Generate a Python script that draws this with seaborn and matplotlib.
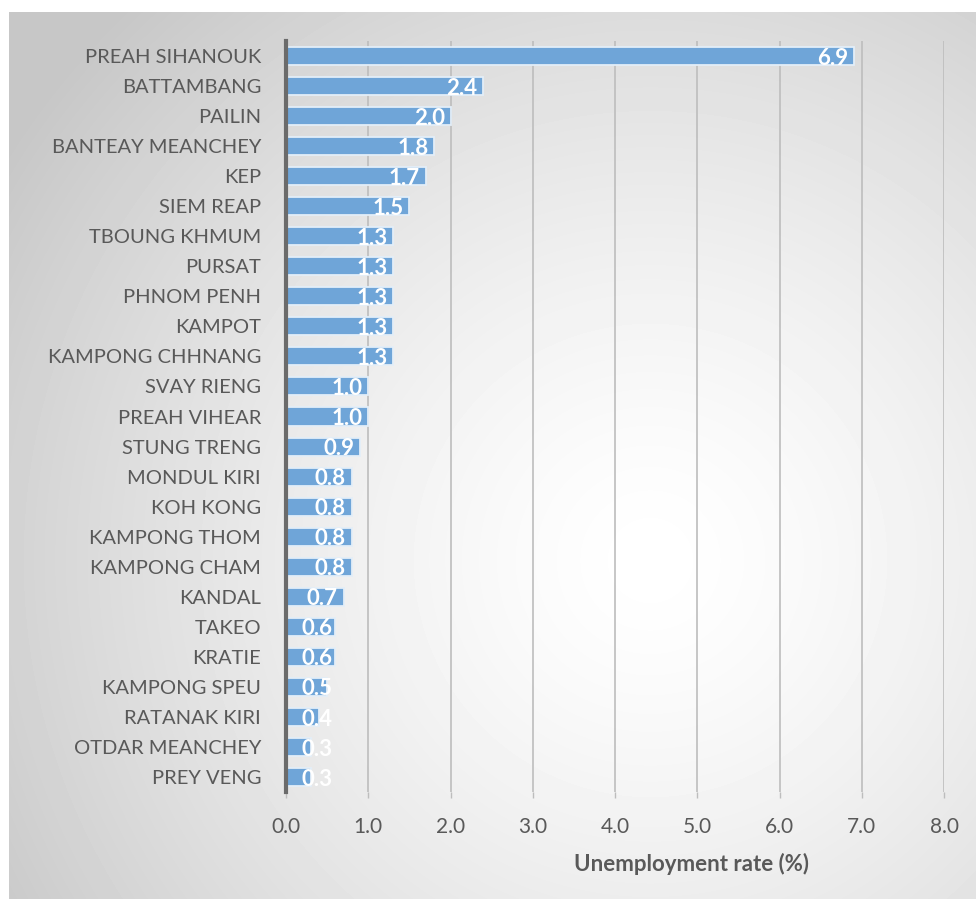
import numpy as np
import pandas as pd
import matplotlib
matplotlib.use("Agg")
import matplotlib.pyplot as plt
import seaborn as sns

provinces = [
    "PREAH SIHANOUK", "BATTAMBANG", "PAILIN", "BANTEAY MEANCHEY", "KEP",
    "SIEM REAP", "TBOUNG KHMUM", "PURSAT", "PHNOM PENH", "KAMPOT",
    "KAMPONG CHHNANG", "SVAY RIENG", "PREAH VIHEAR", "STUNG TRENG",
    "MONDUL KIRI", "KOH KONG", "KAMPONG THOM", "KAMPONG CHAM", "KANDAL",
    "TAKEO", "KRATIE", "KAMPONG SPEU", "RATANAK KIRI", "OTDAR MEANCHEY",
    "PREY VENG",
]
rates = [6.9, 2.4, 2.0, 1.8, 1.7, 1.5, 1.3, 1.3, 1.3, 1.3, 1.3, 1.0, 1.0,
         0.9, 0.8, 0.8, 0.8, 0.8, 0.7, 0.6, 0.6, 0.5, 0.4, 0.3, 0.3]
x_ticks = [0, 1, 2, 3, 4, 5, 6, 7, 8]

df = pd.DataFrame({"province": provinces, "rate": rates})

sns.set_theme(style="white")
plt.rcParams["font.family"] = ["Lato", "DejaVu Sans"]

W, H = 976, 899
fig = plt.figure(figsize=(W / 100, H / 100), dpi=100)
fig.patch.set_facecolor("white")

# Radial gradient panel behind the chart
bg = fig.add_axes([9 / W, 0, 1 - 9 / W, 1 - 12 / H], zorder=-10)
bw, bh = W - 9, H - 12
yy, xx = np.mgrid[0:bh, 0:bw]
cx, cy = 650 - 9, 560 - 12
r = np.sqrt((xx - cx) ** 2 + (yy - cy) ** 2) / 760.0
val = 1.0 - 0.22 * np.clip(r, 0, 1) ** 1.4
bg.imshow(val, cmap="gray", vmin=0, vmax=1, aspect="auto",
          interpolation="bilinear", origin="upper")
bg.set_axis_off()

ax = fig.add_axes([286 / W, 1 - 792 / H, (944 - 286) / W, (792 - 41) / H])
ax.set_facecolor("none")

sns.barplot(data=df, x="rate", y="province", orient="h", ax=ax,
            color="#6FA5D8", saturation=1, width=0.6,
            edgecolor="#E3EEF8", linewidth=1.3, zorder=3)

ax.set_xlim(0, 8)
ax.set_ylim(len(provinces) - 0.5, -0.5)
ax.set_xticks(x_ticks)
ax.set_xticklabels([f"{t:.1f}" for t in x_ticks])
for t in x_ticks[1:]:
    ax.axvline(t, color="#BDBDBD", lw=1.2, zorder=1)

for s in ["top", "right", "bottom"]:
    ax.spines[s].set_visible(False)
ax.spines["left"].set_color("#6B6B6B")
ax.spines["left"].set_linewidth(3)
ax.spines["left"].set_zorder(5)

ax.tick_params(axis="x", length=4, width=1, color="#BDBDBD",
               labelsize=15, labelcolor="#595959", pad=14, bottom=True)
ax.tick_params(axis="y", length=0, labelsize=14.5, labelcolor="#595959", pad=18)
ax.set_xlabel("")
ax.set_ylabel("")

# Value labels at the inner end of each bar
for i, v in enumerate(rates):
    xr = max(v - 0.07, 0.56)
    ax.text(xr, i + 0.07, f"{v:.1f}", ha="right", va="center", color="white",
            fontsize=16, fontweight="bold", zorder=6)

fig.text(691 / W, 1 - 864 / H, "Unemployment rate (%)", ha="center",
         va="center", fontsize=16, fontweight="bold", color="#595959")

fig.savefig("out.png", dpi=100)
